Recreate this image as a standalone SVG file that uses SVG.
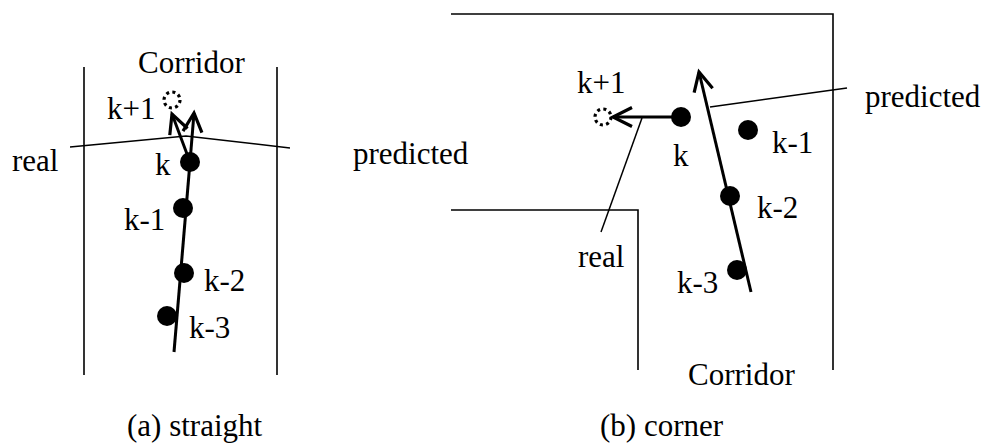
<svg xmlns="http://www.w3.org/2000/svg" width="986" height="444" viewBox="0 0 986 444" font-family="'Liberation Serif', 'Times New Roman', serif">
<style>
text{font-family:"Liberation Serif","Times New Roman",serif;font-size:31px;fill:#000}
.wall{stroke:#000;stroke-width:1.6;fill:none}
.thin{stroke:#000;stroke-width:1.5;fill:none}
.traj{stroke:#000;stroke-width:3;fill:none}
.arr{stroke:#000;stroke-width:3;fill:none;marker-end:url(#head)}
.dot{fill:#000}
.pred{fill:none;stroke:#000;stroke-width:3.2;stroke-dasharray:3 3.3}
</style>
<defs>
<marker id="head" markerUnits="userSpaceOnUse" markerWidth="30" markerHeight="30" viewBox="-25 -15 30 30" refX="0" refY="0" orient="auto">
<path d="M-19,-9.5 L0,0 L-19,9.5" fill="none" stroke="#000" stroke-width="3.2" stroke-linejoin="miter"/>
</marker>
</defs>

<g id="panel-a">
<g id="a-walls">
<line class="wall" x1="84" y1="67" x2="84" y2="375"/>
<line class="wall" x1="277" y1="67" x2="277" y2="375"/>
</g>
<g id="a-connectors">
<polyline class="thin" points="70,147 186,136 290,148"/>
<line class="traj" x1="174" y1="352" x2="190" y2="162"/>
<line class="arr" x1="190" y1="162" x2="172" y2="114"/>
<line class="arr" x1="190" y1="162" x2="194" y2="113"/>
</g>
<g id="a-k"><circle class="dot" cx="190" cy="162" r="10"/></g>
<g id="a-k-1"><circle class="dot" cx="183" cy="208" r="10"/></g>
<g id="a-k-2"><circle class="dot" cx="184" cy="273" r="10"/></g>
<g id="a-k-3"><circle class="dot" cx="167" cy="316" r="10"/></g>
<g id="a-k+1"><circle class="pred" cx="172" cy="100" r="8"/></g>
<text x="138" y="73">Corridor</text>
<text x="107" y="119">k+1</text>
<text x="12" y="171">real</text>
<text x="155" y="175">k</text>
<text x="124" y="230">k-1</text>
<text x="204" y="291">k-2</text>
<text x="189" y="338">k-3</text>
<text x="127" y="436">(a) straight</text>
</g>

<g id="panel-b">
<g id="b-walls">
<polyline class="wall" points="451,14 833,14 833,370"/>
<polyline class="wall" points="451,210 638,210 638,370"/>
</g>
<g id="b-connectors">
<line class="thin" x1="601" y1="232" x2="642" y2="118"/>
<line class="thin" x1="710" y1="107" x2="847" y2="88"/>
<line class="arr" x1="681" y1="117" x2="613" y2="117"/>
<line class="arr" x1="751" y1="292" x2="699" y2="72"/>
</g>
<g id="b-k"><circle class="dot" cx="681" cy="117" r="10"/></g>
<g id="b-k-1"><circle class="dot" cx="748" cy="130" r="10"/></g>
<g id="b-k-2"><circle class="dot" cx="730" cy="196" r="10"/></g>
<g id="b-k-3"><circle class="dot" cx="737" cy="270" r="10"/></g>
<g id="b-k+1"><circle class="pred" cx="603" cy="117" r="8"/></g>
<text x="577" y="93">k+1</text>
<text x="673" y="166">k</text>
<text x="772" y="153">k-1</text>
<text x="757" y="218">k-2</text>
<text x="677" y="293">k-3</text>
<text x="578" y="267">real</text>
<text x="353" y="164">predicted</text>
<text x="865" y="107">predicted</text>
<text x="688" y="385">Corridor</text>
<text x="600" y="436">(b) corner</text>
</g>
</svg>
